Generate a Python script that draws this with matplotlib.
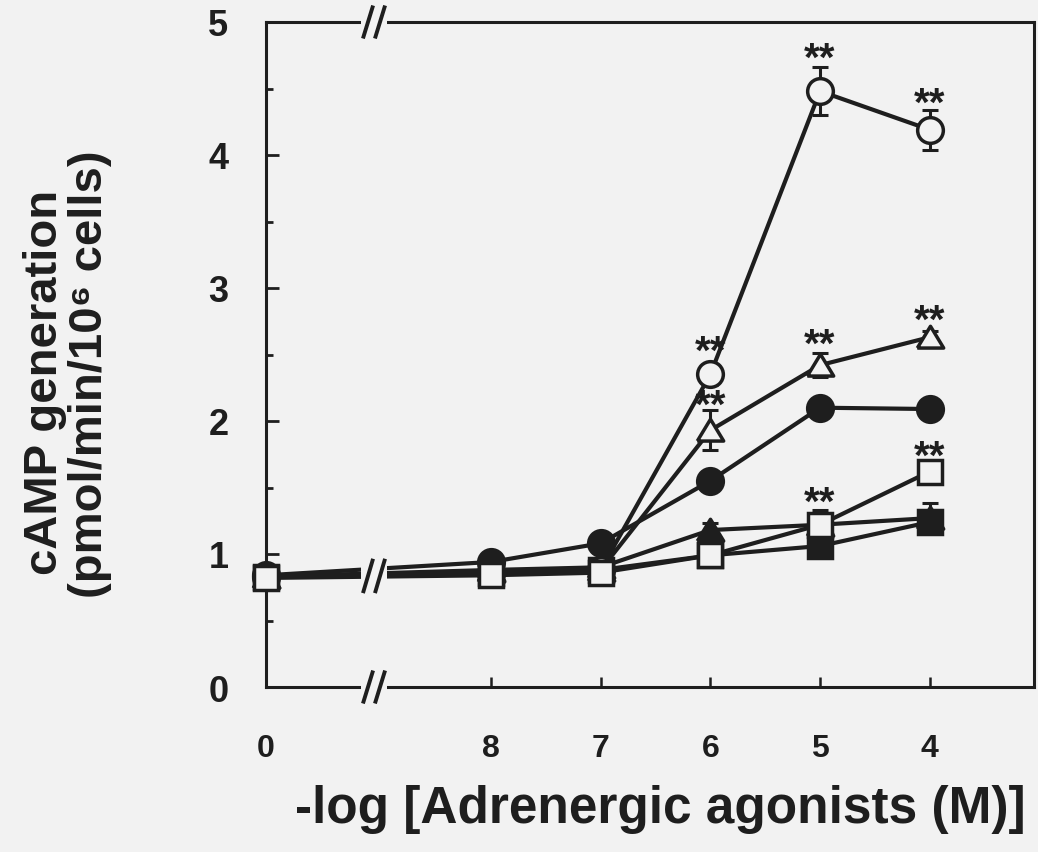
import matplotlib
matplotlib.use("Agg")
import matplotlib.pyplot as plt
from matplotlib.patches import Rectangle
from matplotlib.ticker import MultipleLocator

plt.rcParams['font.family'] = ['Liberation Sans', 'DejaVu Sans']
plt.rcParams['font.weight'] = 'bold'

INK = '#1e1e1e'
PAPER = '#f2f2f2'

# -log[agonist] concentrations (0 = no agonist) and their positions on the broken axis
conc_labels = ['0', '8', '7', '6', '5', '4']
x_pos = [0.0, 2.05, 3.05, 4.05, 5.05, 6.05]

# cAMP generation (pmol/min/10^6 cells), mean and SE
open_circle = [0.83, 0.86, 0.88, 2.35, 4.48, 4.19]
open_circle_err = [0.03, 0.03, 0.04, 0.08, 0.18, 0.15]
open_triangle = [0.83, 0.87, 0.88, 1.93, 2.42, 2.63]
open_triangle_err = [0.03, 0.03, 0.03, 0.15, 0.09, 0.05]
filled_circle = [0.84, 0.94, 1.08, 1.55, 2.10, 2.09]
filled_circle_err = [0.03, 0.04, 0.05, 0.06, 0.06, 0.05]
filled_triangle = [0.83, 0.88, 0.90, 1.18, 1.22, 1.27]
filled_triangle_err = [0.03, 0.03, 0.03, 0.05, 0.05, 0.11]
open_square = [0.82, 0.84, 0.86, 0.99, 1.22, 1.62]
open_square_err = [0.03, 0.03, 0.03, 0.05, 0.11, 0.06]
filled_square = [0.83, 0.86, 0.88, 0.99, 1.06, 1.24]
filled_square_err = [0.03, 0.03, 0.03, 0.04, 0.05, 0.05]

# indices of points marked as significant (**), with the label offset in points
open_circle_sig = [(3, 16), (4, 23), (5, 19)]
open_triangle_sig = [(3, 18), (4, 15), (5, 11.5)]
open_square_sig = [(4, 16), (5, 10.5)]

fig = plt.figure(figsize=(10.38, 8.53), dpi=100, facecolor=PAPER)
ax = fig.add_axes([266 / 1038, 1 - 688 / 853, 768 / 1038, 665 / 853])
ax.set_facecolor(PAPER)

tri = [(-1.0, -0.8), (1.0, -0.8), (0.0, 0.85), (-1.0, -0.8)]

series = [
    (filled_square, filled_square_err, 's', INK, 17),
    (filled_triangle, filled_triangle_err, tri, INK, 19),
    (filled_circle, filled_circle_err, 'o', INK, 18.5),
    (open_triangle, open_triangle_err, tri, PAPER, 19),
    (open_circle, open_circle_err, 'o', PAPER, 18.5),
    (open_square, open_square_err, 's', PAPER, 17),
]

z = 2.0
for vals, err, mk, face, ms in series:
    ax.errorbar(x_pos, vals, yerr=err, fmt='none', ecolor=INK,
                elinewidth=2.2, capsize=5.5, capthick=2.2, zorder=z)
    ax.plot(x_pos, vals, color=INK, lw=3.0, marker=mk, ms=ms,
            mfc=face, mec=INK, mew=2.5, zorder=z + 0.05, clip_on=False)
    z += 0.1

for vals, sig in [(open_circle, open_circle_sig),
                  (open_triangle, open_triangle_sig),
                  (open_square, open_square_sig)]:
    for i, off in sig:
        ax.annotate('**', (x_pos[i], vals[i]), xytext=(0, off),
                    textcoords='offset points', ha='center', va='center',
                    fontsize=29, color=INK, zorder=5)

ax.set_xlim(0, 7.0)
ax.set_ylim(0, 5)

# axis breaks between 0 and 8
px_x = 1 / 109.7   # data units per pixel along x
gap_c = (374 - 266) * px_x
gap_w = 13 * px_x
xt = ax.get_xaxis_transform()
for yb in (0.0, 1.0):
    ax.add_patch(Rectangle((gap_c - gap_w, yb - 0.02), 2 * gap_w, 0.04,
                           transform=xt, facecolor=PAPER, edgecolor='none',
                           zorder=3, clip_on=False))
    for dx in (-6, 6):
        xc = gap_c + dx * px_x
        ax.plot([xc - 4.5 * px_x, xc + 4.5 * px_x], [yb - 0.022, yb + 0.022],
                transform=xt, color=INK, lw=2.8, zorder=4, clip_on=False)

ax.add_patch(Rectangle((gap_c - gap_w, 0.74), 2 * gap_w, 0.2,
                       facecolor=PAPER, edgecolor='none', zorder=3.5))
for dx in (-6, 6):
    xc = gap_c + dx * px_x
    ax.plot([xc - 4.5 * px_x, xc + 4.5 * px_x], [0.72, 0.95],
            color=INK, lw=2.8, zorder=4)

for s in ax.spines.values():
    s.set_linewidth(2.2)
    s.set_color(INK)

ax.set_xticks(x_pos)
ax.set_xticklabels(conc_labels)
ax.tick_params(axis='x', direction='in', length=7, width=1.8, pad=33,
               labelsize=23, colors=INK)
ax.set_yticks([0, 1, 2, 3, 4, 5])
ax.yaxis.set_minor_locator(MultipleLocator(0.5))
ax.tick_params(axis='y', which='major', direction='in', length=9, width=2,
               pad=27, labelsize=26, colors=INK)
ax.tick_params(axis='y', which='minor', direction='in', length=5, width=2,
               colors=INK)

fig.text(660 / 1038, 1 - 810 / 853, '-log [Adrenergic agonists (M)]',
         ha='center', va='center', fontsize=37, color=INK)
fig.text(45 / 1038, 1 - 382 / 853, 'cAMP generation', rotation=90,
         ha='center', va='center', fontsize=34, color=INK)
fig.text(90 / 1038, 1 - 374 / 853, '(pmol/min/10\u2076 cells)', rotation=90,
         ha='center', va='center', fontsize=34, color=INK)

fig.savefig('out.png', dpi=100, facecolor=PAPER)
